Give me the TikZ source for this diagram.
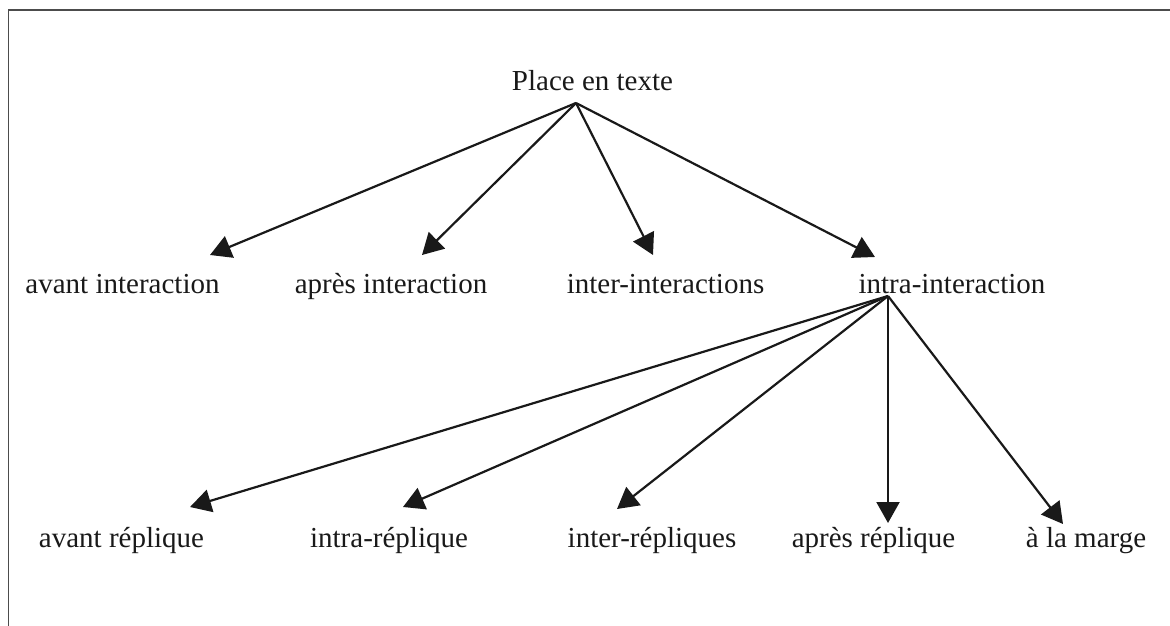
\documentclass[tikz,border=0pt]{standalone}
\usepackage{fontspec}
\setmainfont{Liberation Serif}
\usetikzlibrary{arrows.meta}
\begin{document}
\begin{tikzpicture}[x=1pt,y=-1pt,
  lbl/.style={anchor=base,inner sep=0pt,font=\fontsize{29}{34}\selectfont,text=black!90},
  arr/.style={line width=2.2pt,draw=black!90,-{Triangle[length=21pt,width=23pt]}},
  frame/.style={line width=1.3pt,draw=black!70}]
\useasboundingbox (0,0) rectangle (1170,626);
% frame
\coordinate (fa) at (8.5,626);
\coordinate (fb) at (8.5,10);
\coordinate (fc) at (1170,10);
\draw[frame] (fa) -- (fb) -- (fc);
% nodes
\node[lbl] (top) at (592.5,90) {Place en texte};
\node[lbl] (ai) at (122.5,293) {avant interaction};
\node[lbl] (pi) at (391,293) {après interaction};
\node[lbl] (ii) at (665.5,293) {inter-interactions};
\node[lbl] (ti) at (952,293) {intra-interaction};
\node[lbl] (ar) at (121.5,547) {avant réplique};
\node[lbl] (ir) at (389,547) {intra-réplique};
\node[lbl] (er) at (652,547) {inter-répliques};
\node[lbl] (pr) at (873.5,547) {après réplique};
\node[lbl] (mg) at (1086,547) {à la marge};
% connector points
\coordinate (p0) at (576,103);
\coordinate (p1) at (888,296);
\coordinate (t-ai) at (210,255);
\coordinate (t-pi) at (422,255);
\coordinate (t-ii) at (653,255);
\coordinate (t-ti) at (875,257);
\coordinate (t-ar) at (190,507);
\coordinate (t-ir) at (403,507);
\coordinate (t-er) at (617,509);
\coordinate (t-pr) at (888,523);
\coordinate (t-mg) at (1063,524);
% connectors
\draw[arr] (p0) -- (t-ai);
\draw[arr] (p0) -- (t-pi);
\draw[arr] (p0) -- (t-ii);
\draw[arr] (p0) -- (t-ti);
\draw[arr] (p1) -- (t-ar);
\draw[arr] (p1) -- (t-ir);
\draw[arr] (p1) -- (t-er);
\draw[arr] (p1) -- (t-pr);
\draw[arr] (p1) -- (t-mg);
\end{tikzpicture}
\end{document}
